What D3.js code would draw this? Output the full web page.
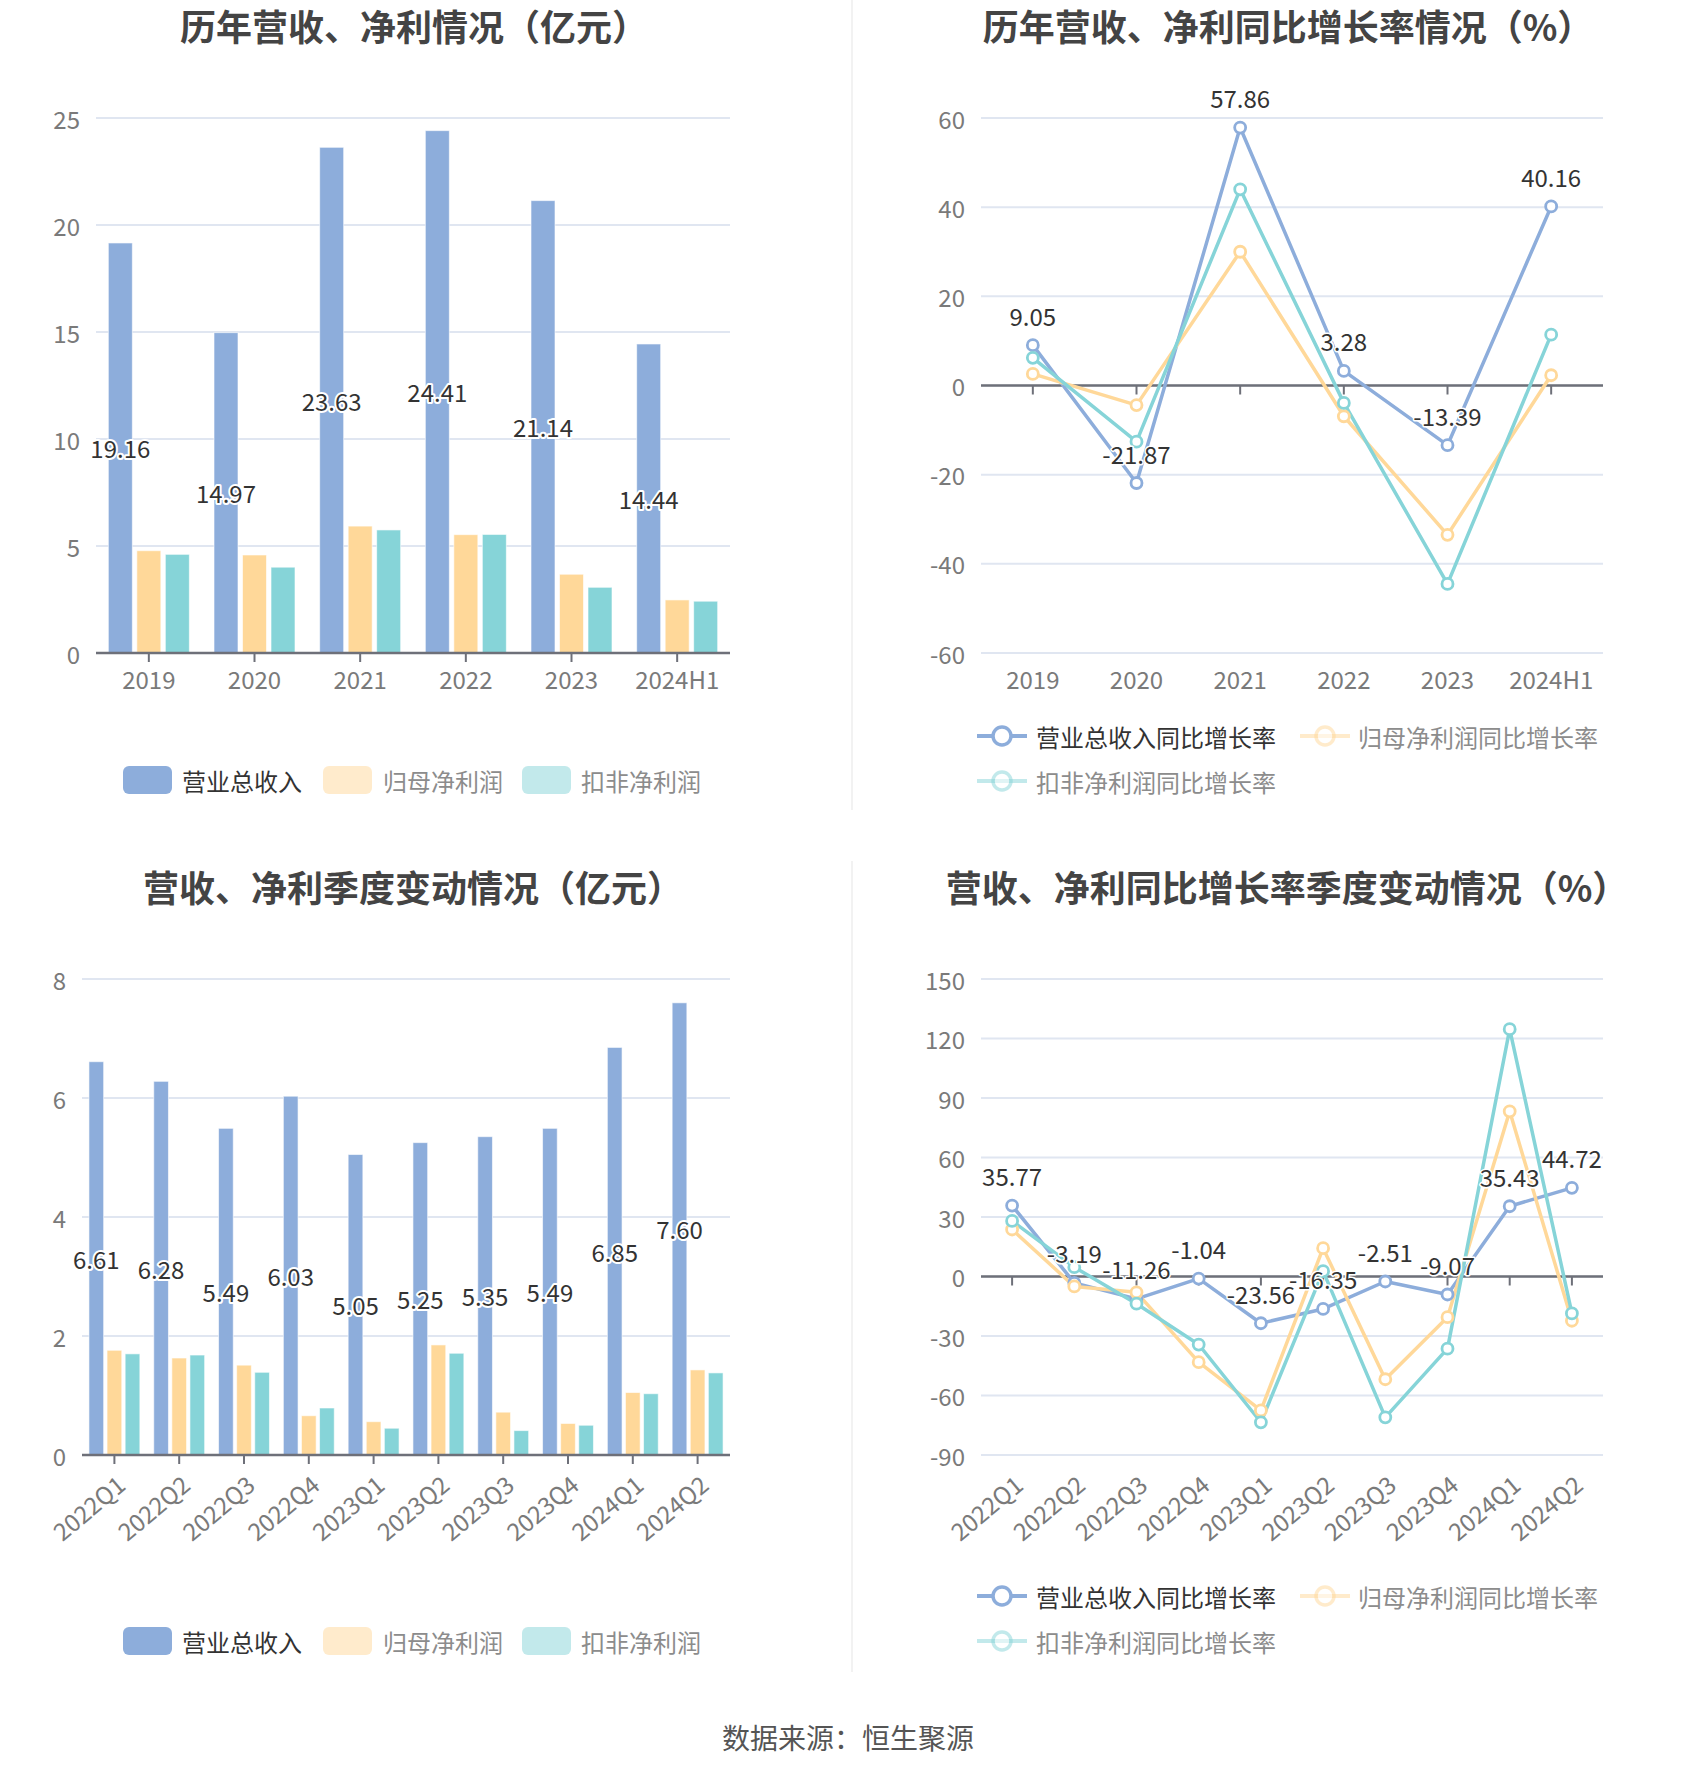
<!DOCTYPE html>
<html><head><meta charset="utf-8">
<script src="https://cdn.jsdelivr.net/npm/d3@7/dist/d3.min.js"></script>
<style>
html,body{margin:0;padding:0;background:#fff;}
svg{display:block;font-family:"Noto Sans CJK SC","Noto Sans",sans-serif;}
</style></head>
<body>
<svg id="c" width="1700" height="1782"></svg>
<script>
// ---------- DATA ----------
const years = ['2019','2020','2021','2022','2023','2024H1'];
const annualRevenue = [19.16,14.97,23.63,24.41,21.14,14.44];
const annualNetProfit = [4.78,4.58,5.93,5.53,3.68,2.48];
const annualDeducted = [4.61,4.01,5.75,5.54,3.07,2.42];
const annualYTicks = [0,5,10,15,20,25];

const annualRevenueGrowth = [9.05,-21.87,57.86,3.28,-13.39,40.16];
const annualNetGrowth = [2.6,-4.4,30.0,-6.9,-33.5,2.3];
const annualDeductedGrowth = [6.2,-12.6,44.0,-3.9,-44.5,11.4];
const annualGrowthTicks = [-60,-40,-20,0,20,40,60];

const quarters = ['2022Q1','2022Q2','2022Q3','2022Q4','2023Q1','2023Q2','2023Q3','2023Q4','2024Q1','2024Q2'];
const qRevenue = [6.61,6.28,5.49,6.03,5.05,5.25,5.35,5.49,6.85,7.60];
const qNetProfit = [1.76,1.63,1.51,0.66,0.56,1.85,0.72,0.53,1.05,1.43];
const qDeducted = [1.70,1.68,1.39,0.79,0.45,1.71,0.41,0.50,1.03,1.38];
const qYTicks = [0,2,4,6,8];

const qRevenueGrowth = [35.77,-3.19,-11.26,-1.04,-23.56,-16.35,-2.51,-9.07,35.43,44.72];
const qNetGrowth = [23.7,-5.0,-8.0,-43.2,-67.5,14.3,-51.8,-20.5,83.3,-22.3];
const qDeductedGrowth = [28.0,4.7,-13.7,-34.3,-73.5,2.7,-71.0,-36.4,124.7,-18.6];
const qGrowthTicks = [-90,-60,-30,0,30,60,90,120,150];

const barSeriesNames = ['营业总收入','归母净利润','扣非净利润'];
const lineSeriesNames = ['营业总收入同比增长率','归母净利润同比增长率','扣非净利润同比增长率'];
const titles = ['历年营收、净利情况（亿元）','历年营收、净利同比增长率情况（%）','营收、净利季度变动情况（亿元）','营收、净利同比增长率季度变动情况（%）'];
const sourceText = '数据来源：恒生聚源';

// ---------- STYLE ----------
const COLORS = ['#8DADDB','#FFD899','#86D4D8'];
const GRID = '#E0E6F1', AXIS = '#6E7079', LABEL = '#7a7a7a', DARK = '#333';
const svg = d3.select('#c');

// dividers
svg.append('line').attr('x1',852).attr('x2',852).attr('y1',0).attr('y2',810).attr('stroke','#eee').attr('stroke-width',1.5);
svg.append('line').attr('x1',852).attr('x2',852).attr('y1',861).attr('y2',1672).attr('stroke','#eee').attr('stroke-width',1.5);

function title(txt, cx, cy){
  svg.append('text').attr('x',cx).attr('y',cy).attr('text-anchor','middle').attr('dominant-baseline','central')
    .attr('font-size',36).attr('font-weight','bold').attr('fill','#444').text(txt);
}

function yAxisGrid(g, y, ticks, x0, x1){
  g.append('g').selectAll('line').data(ticks).join('line')
    .attr('x1',x0).attr('x2',x1).attr('y1',d=>y(d)).attr('y2',d=>y(d))
    .attr('stroke',GRID).attr('stroke-width',2);
  g.append('g').selectAll('text').data(ticks).join('text')
    .attr('x',x0-16).attr('y',d=>y(d)).attr('text-anchor','end').attr('dominant-baseline','central')
    .attr('font-size',24).attr('fill',LABEL).text(d=>d);
}

function xAxis(g, x, cats, yLine, x0, x1, labelY, rotate){
  g.append('line').attr('x1',x0).attr('x2',x1).attr('y1',yLine).attr('y2',yLine).attr('stroke',AXIS).attr('stroke-width',2.5);
  g.append('g').selectAll('line').data(cats).join('line')
    .attr('x1',d=>x(d)+x.bandwidth()/2).attr('x2',d=>x(d)+x.bandwidth()/2)
    .attr('y1',yLine).attr('y2',yLine+9).attr('stroke',AXIS).attr('stroke-width',2);
  const t = g.append('g').selectAll('text').data(cats).join('text').attr('font-size',24).attr('fill',LABEL).text(d=>d);
  if(rotate){
    t.attr('text-anchor','end').attr('dominant-baseline','central')
     .attr('transform',d=>`translate(${x(d)+x.bandwidth()/2+6},${labelY}) rotate(-40)`);
  } else {
    t.attr('x',d=>x(d)+x.bandwidth()/2).attr('y',labelY).attr('text-anchor','middle').attr('dominant-baseline','central');
  }
}

function barChart(cfg){
  const g = svg.append('g');
  const x = d3.scaleBand().domain(cfg.cats).range([cfg.x0,cfg.x1]);
  const y = d3.scaleLinear().domain([cfg.ticks[0],cfg.ticks[cfg.ticks.length-1]]).range([cfg.yb,cfg.yt]);
  yAxisGrid(g,y,cfg.ticks,cfg.x0,cfg.x1);
  const inner = d3.scaleBand().domain([0,1,2]).range([0,cfg.bw*3+cfg.gap*2]).paddingInner(cfg.gap/(cfg.bw+cfg.gap));
  const groupW = cfg.bw*3+cfg.gap*2;
  const off = (x.bandwidth()-groupW)/2;
  cfg.series.forEach((vals,si)=>{
    g.append('g').selectAll('rect').data(vals).join('rect')
      .attr('x',(d,i)=>x(cfg.cats[i])+off+inner(si)).attr('width',inner.bandwidth())
      .attr('y',d=>y(d)).attr('height',d=>y(0)-y(d))
      .attr('fill',COLORS[si]).attr('stroke','rgba(255,255,255,0.6)').attr('stroke-width',1);
  });
  xAxis(g,x,cfg.cats,y(0),cfg.x0,cfg.x1,cfg.labelY,cfg.rotate);
  g.append('g').selectAll('text').data(cfg.series[0]).join('text')
    .attr('x',(d,i)=>x(cfg.cats[i])+off+inner(0)+inner.bandwidth()/2)
    .attr('y',d=>(y(d)+y(0))/2).attr('text-anchor','middle').attr('dominant-baseline','central')
    .attr('font-size',24).attr('fill',DARK).attr('stroke','#fff').attr('stroke-width',4)
    .attr('paint-order','stroke').attr('stroke-linejoin','round')
    .text(d=>d.toFixed(2));
  const lg = svg.append('g');
  cfg.legendItems.forEach((it,i)=>{
    lg.append('rect').attr('x',it.ix).attr('y',cfg.legendY-14).attr('width',49).attr('height',28).attr('rx',6)
      .attr('fill',COLORS[i]).attr('opacity',i===0?1:0.5);
    lg.append('text').attr('x',it.tx).attr('y',cfg.legendY).attr('dominant-baseline','central')
      .attr('font-size',24).attr('fill',i===0?DARK:'#8c8c8c').text(barSeriesNames[i]);
  });
}

function lineChart(cfg){
  const g = svg.append('g');
  const x = d3.scaleBand().domain(cfg.cats).range([cfg.x0,cfg.x1]);
  const y = d3.scaleLinear().domain([cfg.ticks[0],cfg.ticks[cfg.ticks.length-1]]).range([cfg.yb,cfg.yt]);
  yAxisGrid(g,y,cfg.ticks,cfg.x0,cfg.x1);
  xAxis(g,x,cfg.cats,y(0),cfg.x0,cfg.x1,cfg.labelY,cfg.rotate);
  const cx = i=>x(cfg.cats[i])+x.bandwidth()/2;
  const line = d3.line().x((d,i)=>cx(i)).y(d=>y(d));
  cfg.series.forEach((vals,si)=>{
    g.append('path').attr('d',line(vals)).attr('fill','none').attr('stroke',COLORS[si]).attr('stroke-width',3.5).attr('stroke-linejoin','round');
  });
  cfg.series.forEach((vals,si)=>{
    g.append('g').selectAll('circle').data(vals).join('circle')
      .attr('cx',(d,i)=>cx(i)).attr('cy',d=>y(d)).attr('r',5.5)
      .attr('fill','#fff').attr('stroke',COLORS[si]).attr('stroke-width',2.8);
  });
  g.append('g').selectAll('text').data(cfg.series[0]).join('text')
    .attr('x',(d,i)=>cx(i)).attr('y',d=>y(d)-30).attr('text-anchor','middle').attr('dominant-baseline','central')
    .attr('font-size',24).attr('fill',DARK).attr('stroke','#fff').attr('stroke-width',3)
    .attr('paint-order','stroke').attr('stroke-linejoin','round')
    .text(d=>d.toFixed(2));
  const lg = svg.append('g');
  cfg.legendItems.forEach((it,i)=>{
    const op = i===0?1:0.5;
    lg.append('line').attr('x1',it.ix).attr('x2',it.ix+50).attr('y1',it.y).attr('y2',it.y)
      .attr('stroke',COLORS[i]).attr('stroke-width',4).attr('opacity',op);
    lg.append('circle').attr('cx',it.ix+25).attr('cy',it.y).attr('r',9).attr('fill','#fff')
      .attr('stroke',COLORS[i]).attr('stroke-width',3.5).attr('opacity',op);
    lg.append('text').attr('x',it.tx).attr('y',it.y).attr('dominant-baseline','central')
      .attr('font-size',24).attr('fill',i===0?DARK:'#8c8c8c').text(lineSeriesNames[i]);
  });
}

// ---------- CHARTS ----------
title(titles[0],414,25);
title(titles[1],1288,25);
title(titles[2],413,886);
title(titles[3],1287,886);

barChart({cats:years,series:[annualRevenue,annualNetProfit,annualDeducted],ticks:annualYTicks,
  x0:96,x1:730,yt:118,yb:653,bw:24,gap:4.5,labelY:678,rotate:false,legendY:780,
  legendItems:[{ix:123,tx:182},{ix:323,tx:383},{ix:522,tx:581}]});

lineChart({cats:years,series:[annualRevenueGrowth,annualNetGrowth,annualDeductedGrowth],ticks:annualGrowthTicks,
  x0:981,x1:1603,yt:118,yb:653,labelY:678,rotate:false,
  legendItems:[{ix:977,tx:1036,y:736},{ix:1300,tx:1358,y:736},{ix:977,tx:1036,y:781}]});

barChart({cats:quarters,series:[qRevenue,qNetProfit,qDeducted],ticks:qYTicks,
  x0:82,x1:730,yt:979,yb:1455,bw:14.7,gap:3.4,labelY:1480,rotate:true,legendY:1641,
  legendItems:[{ix:123,tx:182},{ix:323,tx:383},{ix:522,tx:581}]});

lineChart({cats:quarters,series:[qRevenueGrowth,qNetGrowth,qDeductedGrowth],ticks:qGrowthTicks,
  x0:981,x1:1603,yt:979,yb:1455,labelY:1480,rotate:true,
  legendItems:[{ix:977,tx:1036,y:1596},{ix:1300,tx:1358,y:1596},{ix:977,tx:1036,y:1641}]});

svg.append('text').attr('x',848).attr('y',1737).attr('text-anchor','middle').attr('dominant-baseline','central')
  .attr('font-size',28).attr('fill','#555').text(sourceText);
</script>
</body></html>
